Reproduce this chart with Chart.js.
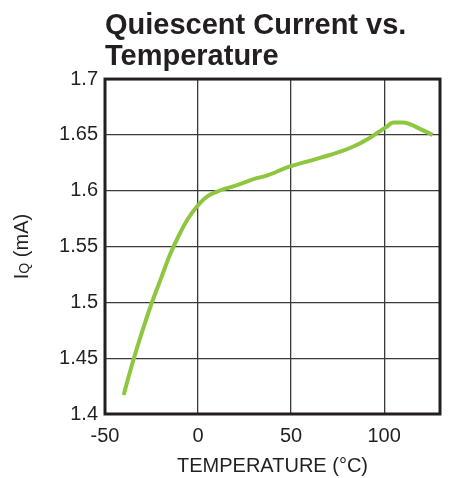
<!DOCTYPE html>
<html>
<head>
<meta charset="utf-8">
<script src="https://cdn.jsdelivr.net/npm/chart.js@4"></script>
<style>
html,body{margin:0;padding:0;background:#fff;}
#wrap{width:449px;height:478px;position:relative;}
</style>
</head>
<body>
<div id="wrap"><canvas id="c"></canvas></div>
<script>
const titleLines = ["Quiescent Current vs.", "Temperature"];
const xAxisTitle = "TEMPERATURE (°C)";
const yAxisTitleMain = "I";
const yAxisTitleSub = "Q";
const yAxisTitleRest = " (mA)";
const xTickValues = [-50, 0, 50, 100];
const yTickValues = [1.4, 1.45, 1.5, 1.55, 1.6, 1.65, 1.7];
const temperatures = [-40, -35, -30, -25, -20, -15, -10, -5, 0, 5, 10, 15, 21, 31, 36, 49, 67, 82, 92, 101, 105, 110, 121, 126];
const iqValues = [1.417, 1.447, 1.474, 1.499, 1.521, 1.543, 1.561, 1.576, 1.587, 1.595, 1.599, 1.602, 1.605, 1.611, 1.613, 1.6215, 1.630, 1.6385, 1.647, 1.657, 1.661, 1.661, 1.654, 1.650];

const INK = '#231f20';
const FONT = '"Liberation Sans", Arial, Helvetica, sans-serif';

const frameAndYTitle = {
  id: 'frameAndYTitle',
  afterDraw(chart) {
    const {ctx, chartArea: a} = chart;
    ctx.save();
    ctx.strokeStyle = INK;
    ctx.lineWidth = 3;
    ctx.strokeRect(a.left, a.top, a.right - a.left, a.bottom - a.top);
    const big = '20px ' + FONT, small = '14px ' + FONT;
    ctx.font = big; const w1 = ctx.measureText(yAxisTitleMain).width;
    const w3 = ctx.measureText(yAxisTitleRest).width;
    ctx.font = small; const w2 = ctx.measureText(yAxisTitleSub).width;
    const total = w1 + w2 + w3;
    ctx.translate(28, (a.top + a.bottom) / 2);
    ctx.rotate(-Math.PI / 2);
    ctx.fillStyle = INK;
    ctx.textBaseline = 'alphabetic';
    ctx.textAlign = 'left';
    let x = -total / 2;
    ctx.font = big; ctx.fillText(yAxisTitleMain, x, 0); x += w1;
    ctx.font = small; ctx.fillText(yAxisTitleSub, x, 1); x += w2;
    ctx.font = big; ctx.fillText(yAxisTitleRest, x, 0);
    ctx.restore();
  }
};

new Chart(document.getElementById('c'), {
  type: 'line',
  data: {
    datasets: [{
      data: temperatures.map((t, i) => ({x: t, y: iqValues[i]})),
      borderColor: '#8dc63f',
      borderWidth: 4,
      pointRadius: 0,
      tension: 0.4,
      cubicInterpolationMode: 'monotone',
      fill: false
    }]
  },
  options: {
    responsive: true,
    maintainAspectRatio: false,
    animation: false,
    layout: {padding: {left: 0, right: 9, top: 0, bottom: 0}},
    plugins: {
      legend: {display: false},
      tooltip: {enabled: false},
      title: {
        display: true,
        text: titleLines,
        align: 'start',
        fullSize: false,
        color: INK,
        font: {family: FONT, size: 29, weight: 'bold', lineHeight: 1.07},
        padding: {top: 10, bottom: 7}
      }
    },
    scales: {
      x: {
        type: 'linear',
        min: -50, max: 130,
        afterBuildTicks: s => { s.ticks = xTickValues.map(v => ({value: v})); },
        afterFit: s => { s.height = 64; },
        grid: {color: '#3a3a3a', lineWidth: 1.3, drawTicks: false},
        border: {display: false},
        ticks: {color: INK, font: {family: FONT, size: 20}, padding: 10, maxRotation: 0},
        title: {display: true, text: xAxisTitle, color: INK, font: {family: FONT, size: 20}, padding: {top: 2, bottom: 0}}
      },
      y: {
        type: 'linear',
        min: 1.4, max: 1.7,
        afterBuildTicks: s => { s.ticks = yTickValues.map(v => ({value: v})); },
        afterFit: s => { s.width = 105; },
        grid: {color: '#3a3a3a', lineWidth: 1.3, drawTicks: false},
        border: {display: false},
        ticks: {color: INK, font: {family: FONT, size: 20}, padding: 7,
          callback: v => String(Number(v.toFixed(2)))}
      }
    }
  },
  plugins: [frameAndYTitle]
});
</script>
</body>
</html>
